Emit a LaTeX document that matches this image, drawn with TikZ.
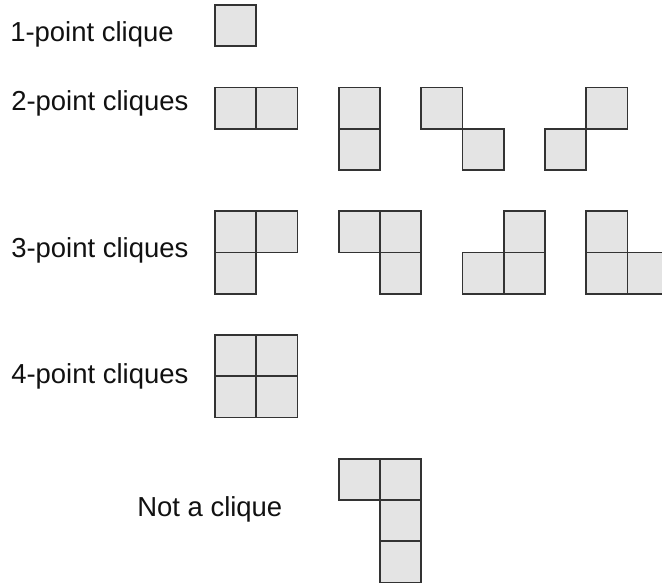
\documentclass[tikz,border=0pt]{standalone}
\usepackage{fontspec}
\setmainfont{Liberation Sans}
\definecolor{cellfill}{HTML}{E4E4E4}
\definecolor{celledge}{HTML}{333333}
\definecolor{txt}{HTML}{111111}
\newcommand\cellat[3]{\node[cell] (#3) at ({235.625+41.25*#1},{25.625+41.25*#2}) {};}
\begin{document}
\begin{tikzpicture}[x=0.75pt,y=-0.75pt,
  cell/.style={draw=celledge, fill=cellfill, line width=1.3pt, rectangle,
    minimum size=30.9375pt, inner sep=0pt, outer sep=0pt},
  lab/.style={anchor=base west, inner sep=0pt, text=txt,
    font=\fontsize{20.6pt}{24pt}\selectfont}]
\clip (0,0) rectangle (662,583);
\fill[white] (0,0) rectangle (662,583);
% labels
\node[lab] (t1) at (10,41.7) {1-point clique};
\node[lab] (t2) at (11,110) {2-point cliques};
\node[lab] (t3) at (11,257.5) {3-point cliques};
\node[lab] (t4) at (11,383.3) {4-point cliques};
\node[lab] (t5) at (137,516) {Not a clique};
% 1-point
\cellat{0}{0}{a1}
% 2-point
\cellat{0}{2}{b1}\cellat{1}{2}{b2}
\cellat{3}{2}{c1}\cellat{3}{3}{c2}
\cellat{5}{2}{d1}\cellat{6}{3}{d2}
\cellat{8}{3}{e1}\cellat{9}{2}{e2}
% 3-point
\cellat{0}{5}{f1}\cellat{1}{5}{f2}\cellat{0}{6}{f3}
\cellat{3}{5}{g1}\cellat{4}{5}{g2}\cellat{4}{6}{g3}
\cellat{7}{5}{h1}\cellat{6}{6}{h2}\cellat{7}{6}{h3}
\cellat{9}{5}{i1}\cellat{9}{6}{i2}\cellat{10}{6}{i3}
% 4-point
\cellat{0}{8}{j1}\cellat{1}{8}{j2}\cellat{0}{9}{j3}\cellat{1}{9}{j4}
% not a clique
\cellat{3}{11}{k1}\cellat{4}{11}{k2}\cellat{4}{12}{k3}\cellat{4}{13}{k4}
\end{tikzpicture}
\end{document}
